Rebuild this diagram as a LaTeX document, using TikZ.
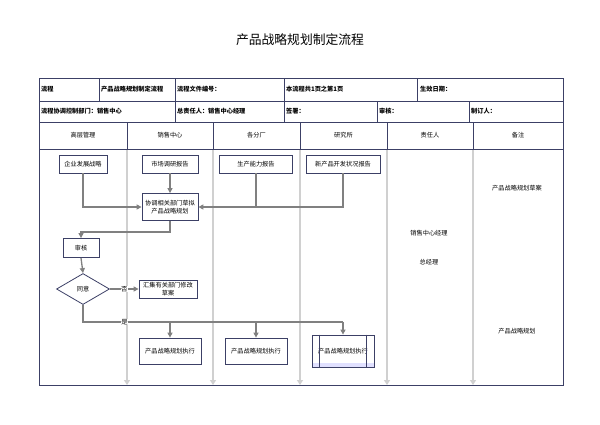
\documentclass[tikz,border=0pt]{standalone}
\usepackage{fontspec}
\setmainfont{Noto Sans CJK SC}
\usetikzlibrary{arrows.meta,shapes.geometric}

\definecolor{framecol}{HTML}{3C4066}
\definecolor{lanecol}{HTML}{D0D0D0}
\definecolor{linkcol}{HTML}{808080}

\tikzset{
  procbox/.style={draw=framecol, line width=0.8pt, fill=white, inner sep=1pt,
    align=center, font=\fontsize{6.2}{8}\selectfont, minimum height=18pt},
  decision/.style={diamond, draw=framecol, line width=0.8pt, fill=white,
    inner sep=0pt, minimum width=53pt, minimum height=31pt, aspect=1.7,
    font=\fontsize{6.2}{8}\selectfont},
  cell/.style={anchor=west, inner sep=0pt, font=\bfseries\fontsize{6.2}{8}\selectfont},
  lanehead/.style={inner sep=0pt, font=\fontsize{6.2}{8}\selectfont},
  note/.style={inner sep=0pt, font=\fontsize{6.2}{8}\selectfont},
  link/.style={color=linkcol, line width=1.3pt},
  answer/.style={fill=white, text=black, inner sep=0.5pt, font=\fontsize{6.4}{8}\selectfont},
}

\begin{document}
\begin{tikzpicture}[%
      x=1pt, y=-1pt,
      >={Triangle[length=5pt,width=5pt]},
      ]
      \useasboundingbox (0,0) rectangle (600,424);
      \fill [white] (0,0) rectangle (600,424);

      \node [inner sep=0pt, font=\fontsize{12.8}{14}\selectfont] (title) at (300,40) {产品战略规划制定流程};

      % lane separators
      \foreach \x in {127,213,300,387,473}
        \draw [color=lanecol, line width=1.4pt, -{Triangle[length=5pt,width=6pt]}] (\x,149.5) -- (\x,385);

      % table frame
      \draw [color=framecol, line width=0.8pt] (39,78) rectangle (563,385);
      \draw [color=framecol, line width=0.8pt] (39,101) -- (563,101);
      \draw [color=framecol, line width=0.8pt] (39,122) -- (563,122);
      \draw [color=framecol, line width=0.8pt] (39,149) -- (563,149);
      \foreach \x in {99,175,284,417}
        \draw [color=framecol, line width=0.8pt] (\x,78) -- (\x,101);
      \foreach \x in {175,284,377,469}
        \draw [color=framecol, line width=0.8pt] (\x,101) -- (\x,122);
      \foreach \x in {127,213,300,387,473}
        \draw [color=framecol, line width=0.8pt] (\x,122) -- (\x,149);

      \node [cell] (c11) at (41,89.5) {流程};
      \node [cell] (c12) at (101,89.5) {产品战略规划制定流程};
      \node [cell] (c13) at (177,89.5) {流程文件编号：};
      \node [cell] (c14) at (286,89.5) {本流程共1页之第1页};
      \node [cell] (c15) at (420,89.5) {生效日期：};
      \node [cell] (c21) at (41,111.5) {流程协调控制部门：销售中心};
      \node [cell] (c22) at (177,111.5) {总责任人：销售中心经理};
      \node [cell] (c23) at (286,111.5) {签署：};
      \node [cell] (c24) at (379,111.5) {审核：};
      \node [cell] (c25) at (471,111.5) {制订人：};

      \node [lanehead] (lane1) at (83,135.5) {高层管理};
      \node [lanehead] (lane2) at (170,135.5) {销售中心};
      \node [lanehead] (lane3) at (256.5,135.5) {各分厂};
      \node [lanehead] (lane4) at (343.5,135.5) {研究所};
      \node [lanehead] (lane5) at (430,135.5) {责任人};
      \node [lanehead] (lane6) at (518,135.5) {备注};

      % steps
      \node [procbox, minimum width=48pt] (strat) at (83,164) {企业发展战略};
      \node [procbox, minimum width=56pt] (market) at (170,164) {市场调研报告};
      \node [procbox, minimum width=73pt] (capacity) at (256,164) {生产能力报告};
      \node [procbox, minimum width=74pt] (newprod) at (343,164) {新产品开发状况报告};
      \node [procbox, minimum width=56pt, minimum height=27pt] (draft) at (170,207) {协调相关部门草拟\\产品战略规划};
      \node [procbox, minimum width=36pt, minimum height=19pt] (review) at (81,248) {审核};
      \node [decision] (agree) at (83,289) {同意};
      \node [procbox, minimum width=58pt] (revise) at (168,289) {汇集有关部门修改\\草案};
      \node [procbox, minimum width=62pt, minimum height=26pt] (exec1) at (170,351) {产品战略规划执行};
      \node [procbox, minimum width=62pt, minimum height=26pt] (exec2) at (256,351) {产品战略规划执行};
      \fill [blue!12] (312,363) rectangle (374,367);
      \node [procbox, minimum width=62pt, minimum height=32pt, fill=none] (exec3) at (343,351) {产品战略规划执行};
      \draw [color=framecol, line width=0.8pt] ([xshift=8pt]exec3.north west) -- ([xshift=8pt]exec3.south west);
      \draw [color=framecol, line width=0.8pt] ([xshift=-8pt]exec3.north east) -- ([xshift=-8pt]exec3.south east);

      % notes
      \node [note] (n1) at (517,188) {产品战略规划草案};
      \node [note] (n2) at (429,233) {销售中心经理};
      \node [note] (n3) at (429,262) {总经理};
      \node [note] (n4) at (517,331) {产品战略规划};

      % connectors
      \draw [link,->] (strat.south) |- (draft.west);
      \draw [link,->] (market.south) -- (draft.north);
      \draw [link,->] (newprod.south) |- (draft.east);
      \draw [link] (capacity.south) -- (capacity.south |- draft.east);
      \draw [link,->] (draft.south) -- ++(0,11) -| (review.north);
      \draw [link,->] (review.south) -- (agree.north);
      \draw [link,->] (agree.east) -- node [answer] {否} (revise.west);
      \coordinate (split) at (83,322);
      \draw [link] (agree.south) -- (split) -- node [answer, pos=0.16] {是} (split -| exec3.north);
      \draw [link,->] (split -| exec1.north) -- (exec1.north);
      \draw [link,->] (split -| exec2.north) -- (exec2.north);
      \draw [link,->] (split -| exec3.north) -- (exec3.north);
\end{tikzpicture}
\end{document}
